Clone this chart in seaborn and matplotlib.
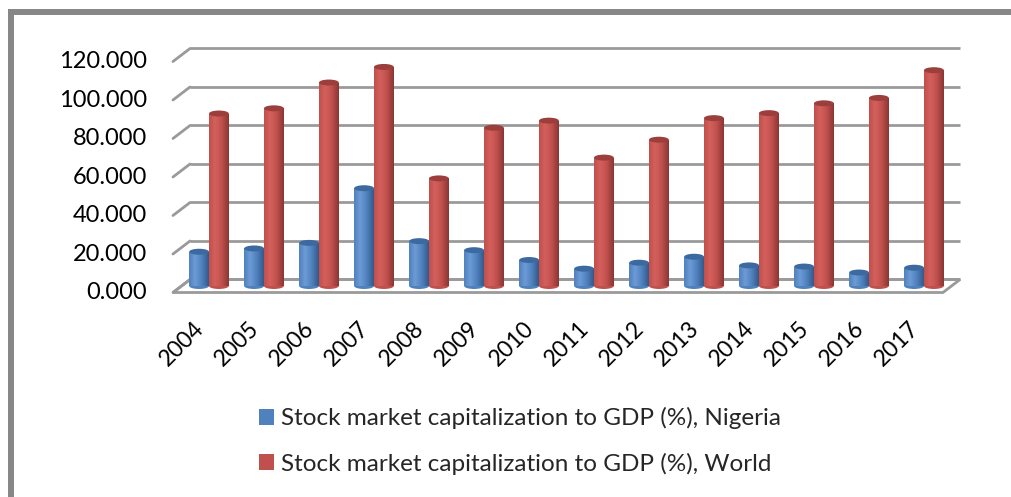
import numpy as np
import pandas as pd
import matplotlib
matplotlib.use("Agg")
import matplotlib.pyplot as plt
import seaborn as sns
from matplotlib.colors import LinearSegmentedColormap
from matplotlib.patches import Ellipse, Polygon
from matplotlib.lines import Line2D

# ── data ──────────────────────────────────────────────────────────────────────
years = ["2004", "2005", "2006", "2007", "2008", "2009", "2010",
         "2011", "2012", "2013", "2014", "2015", "2016", "2017"]
nigeria = [17.8, 19.5, 22.4, 50.8, 23.3, 18.6, 13.5, 9.0, 12.1, 15.2, 10.7, 10.1, 7.0, 9.5]
world = [89.6, 92.3, 105.7, 113.8, 55.9, 82.2, 85.9, 66.7, 76.0, 87.2, 89.8, 94.9, 97.7, 112.1]
series_names = ["Stock market capitalization to GDP (%), Nigeria",
                "Stock market capitalization to GDP (%), World"]
y_ticks = [0, 20, 40, 60, 80, 100, 120]

df = pd.DataFrame({
    "year": years * 2,
    "value": nigeria + world,
    "series": [series_names[0]] * len(years) + [series_names[1]] * len(years),
})

# colours: (dark, base, light, cap) per series
SHADES = {
    series_names[0]: ("#33598a", "#4f81bd", "#6d9bd6", "#3c69a0"),
    series_names[1]: ("#8a3532", "#c0504d", "#d4605c", "#9c3e3b"),
}

sns.set_theme(style="white")
plt.rcParams["font.family"] = ["Lato", "DejaVu Sans"]

W, H = 1012, 497
fig = plt.figure(figsize=(W / 100, H / 100), dpi=100)
# axes = the mid-depth plane of the pseudo-3D chart
ax = fig.add_axes([181.5 / W, (H - 286) / H, 770 / W, 231 / H])

sns.barplot(data=df, x="year", y="value", hue="series",
            palette=[SHADES[s][1] for s in series_names],
            width=0.72, linewidth=0, saturation=1, ax=ax)

handles, labels = ax.get_legend_handles_labels()
ax.get_legend().remove()

DX, DY = 0.155, 3.38      # half depth offset, in data units
EH = 3.1                  # ellipse height of cylinder caps

# cylinder shading
grad = np.linspace(0, 1, 64).reshape(1, -1)
for cont, name in zip(ax.containers, series_names):
    dark, base, light, top = SHADES[name]
    cmap = LinearSegmentedColormap.from_list(
        name, [(0, base), (0.3, light), (0.65, base), (1, dark)])
    for bar in cont:
        x0, w, h = bar.get_x(), bar.get_width(), bar.get_height()
        img = ax.imshow(grad, cmap=cmap, extent=(x0, x0 + w, 0, h),
                        aspect="auto", interpolation="bicubic", zorder=2)
        img.set_clip_path(bar)
        ax.add_patch(Ellipse((x0 + w / 2, 0), w, EH, facecolor=base,
                             edgecolor="none", zorder=1.9, clip_on=False))
        ax.add_patch(Ellipse((x0 + w / 2, h), w, EH, facecolor=top,
                             edgecolor="none", zorder=3, clip_on=False))

x_lo, x_hi = -0.5, len(years) - 0.5
grid_c = "#9a9a9a"

# back-wall gridlines and left-wall slants
for v in y_ticks:
    ax.plot([x_lo + DX, x_hi + DX], [v + DY, v + DY], color=grid_c, lw=2.0,
            zorder=0.5, clip_on=False, solid_capstyle="butt")
    ax.plot([x_lo - DX, x_lo + DX], [v - DY, v + DY], color=grid_c, lw=2.0,
            zorder=0.5, clip_on=False)
    ax.text(x_lo - DX - 0.47, v - DY, f"{v:.3f}", ha="right", va="center",
            fontsize=17, color="black")

# floor outline
floor = Polygon([(x_lo - DX, -DY), (x_hi - DX, -DY), (x_hi + DX, DY), (x_lo + DX, DY)],
                closed=True, facecolor="none", edgecolor=grid_c, lw=2.0,
                zorder=0.6, clip_on=False)
ax.add_patch(floor)

# category labels on the front edge
for i, yr in enumerate(years):
    ax.text(i - DX, -20.2, yr, rotation=45, rotation_mode="anchor",
            ha="right", va="center", fontsize=16.5, color="black")

ax.set_xlim(x_lo, x_hi)
ax.set_ylim(0, 120)
ax.set_xticks([])
ax.set_yticks([])
ax.set_xlabel("")
ax.set_ylabel("")
for sp in ax.spines.values():
    sp.set_visible(False)
ax.patch.set_alpha(0)

fig.legend(handles, labels, loc="center left", bbox_to_anchor=(259 / W, 1 - 441 / H),
           frameon=False, fontsize=17.5, handlelength=0.62, handleheight=0.62,
           handletextpad=0.3, labelspacing=0.95, borderpad=0, borderaxespad=0)

# outer chart frame (top and left edges visible)
frame_c = "#878787"
fig.add_artist(Line2D([8 / W, 1], [1 - 11.5 / H] * 2, color=frame_c, lw=4.3,
                      solid_capstyle="butt"))
fig.add_artist(Line2D([11 / W] * 2, [0, 1 - 9 / H], color=frame_c, lw=4.3,
                      solid_capstyle="butt"))

fig.savefig("out.png", dpi=100)
